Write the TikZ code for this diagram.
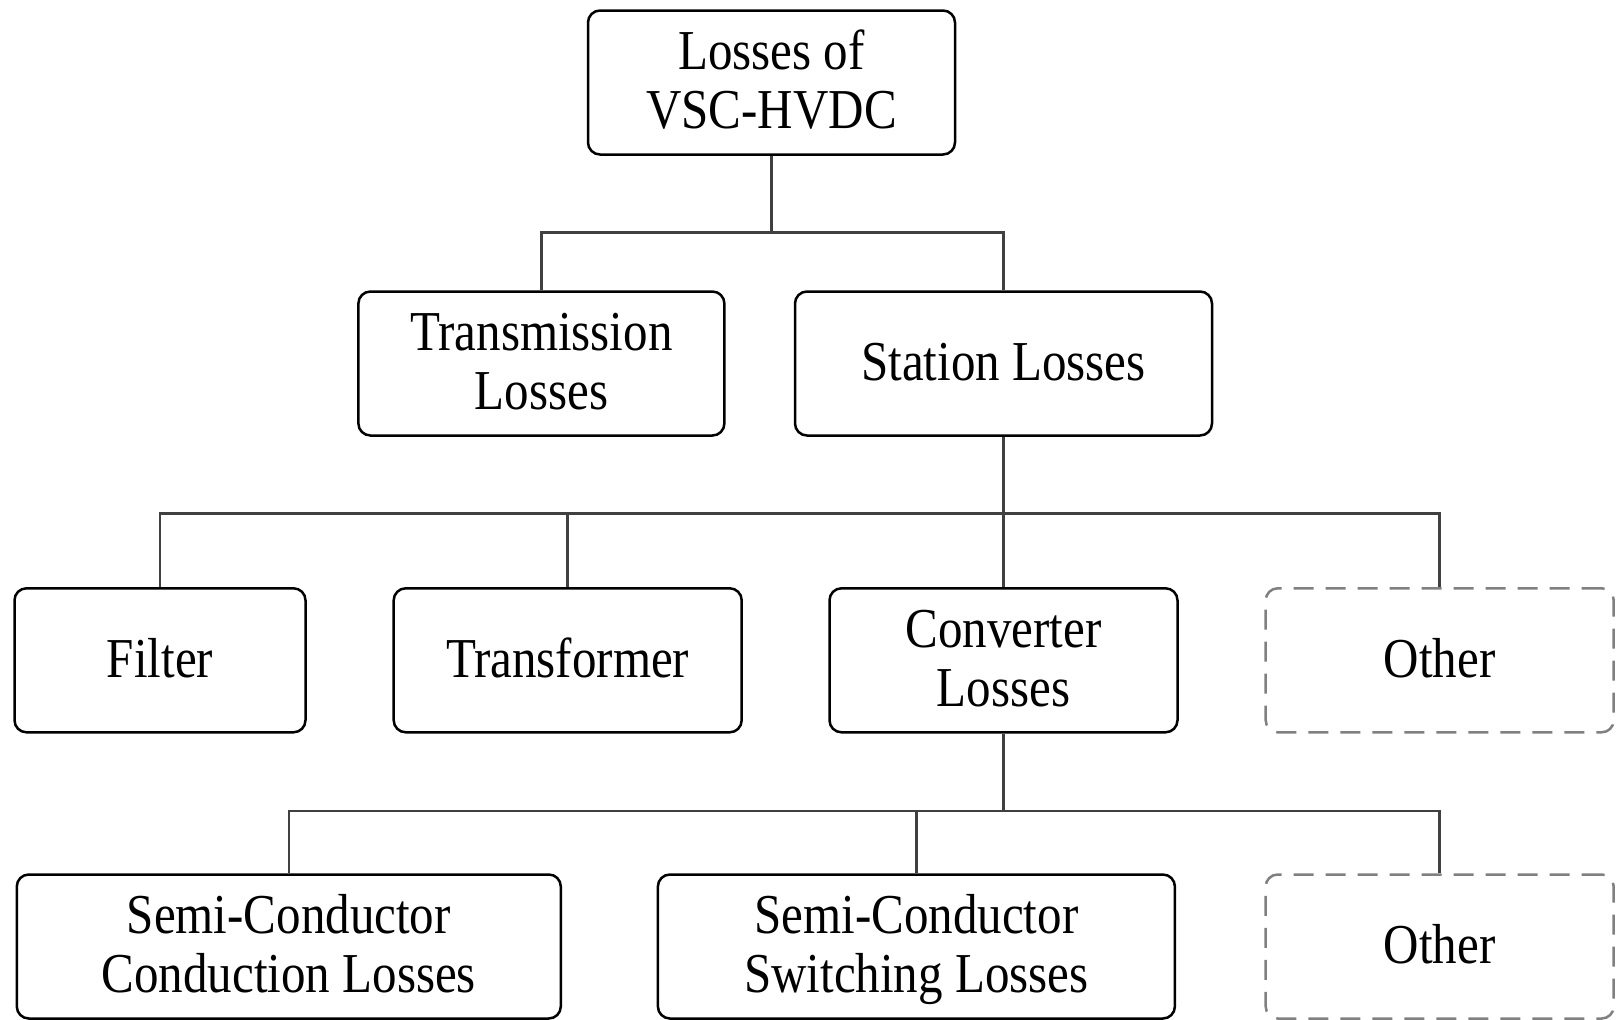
\documentclass[tikz,border=0pt]{standalone}
\usepackage{graphicx}
\usepackage{fontspec}
\setmainfont{Liberation Serif}
\newcommand{\stxt}[1]{\raisebox{-5pt}[\height][\depth]{\scalebox{1}[1.15]{\begin{tabular}{@{}c@{}}#1\end{tabular}}}}
\begin{document}
\begin{tikzpicture}[x=1pt,y=-1pt,
  boxst/.style={draw=black, line width=2.5pt, rounded corners=12pt, minimum height=144pt, inner sep=0pt, font=\fontsize{49}{51}\selectfont},
  dashbox/.style={boxst, draw=black!50, dash pattern=on 20pt off 12pt},
  conn/.style={draw=black!75, line width=2.5pt}]
\useasboundingbox (0,0) rectangle (1620,1020);
% row 0
\node[boxst, minimum width=367pt] (top) at (771.5,82.5) {\stxt{Losses of\\VSC-HVDC}};
% row 1
\node[boxst, minimum width=366pt] (trans) at (541.4,363.5) {\stxt{Transmission\\Losses}};
\node[boxst, minimum width=417pt] (stat) at (1003.5,363.5) {\stxt{Station Losses}};
% row 2
\node[boxst, minimum width=291pt] (filt) at (160,660.3) {\stxt{Filter}};
\node[boxst, minimum width=348pt] (tf) at (567.7,660.3) {\stxt{Transformer}};
\node[boxst, minimum width=348pt] (conv) at (1003.5,660.3) {\stxt{Converter\\Losses}};
\node[dashbox, minimum width=348pt] (oth1) at (1439.7,660.3) {\stxt{Other}};
% row 3
\node[boxst, minimum width=544pt] (cond) at (288.8,946.5) {\stxt{Semi-Conductor\\Conduction Losses}};
\node[boxst, minimum width=517pt] (sw) at (916.4,946.5) {\stxt{Semi-Conductor\\Switching Losses}};
\node[dashbox, minimum width=348pt] (oth2) at (1439.7,946.5) {\stxt{Other}};
% junctions
\coordinate (j1) at (771.5,232.5);
\coordinate (j2) at (1003.5,513.5);
\coordinate (j3) at (1003.5,811);
% connectors
\draw[conn] (top.south) -- (j1);
\draw[conn] (trans.north) |- (j1);
\draw[conn] (j1) -| (stat.north);
\draw[conn] (stat.south) -- (j2);
\draw[conn] (filt.north) |- (j2);
\draw[conn] (tf.north) |- (j2);
\draw[conn] (j2) -- (conv.north);
\draw[conn] (j2) -| (oth1.north);
\draw[conn] (conv.south) -- (j3);
\draw[conn] (cond.north) |- (j3);
\draw[conn] (sw.north) |- (j3);
\draw[conn] (j3) -| (oth2.north);
\end{tikzpicture}
\end{document}
